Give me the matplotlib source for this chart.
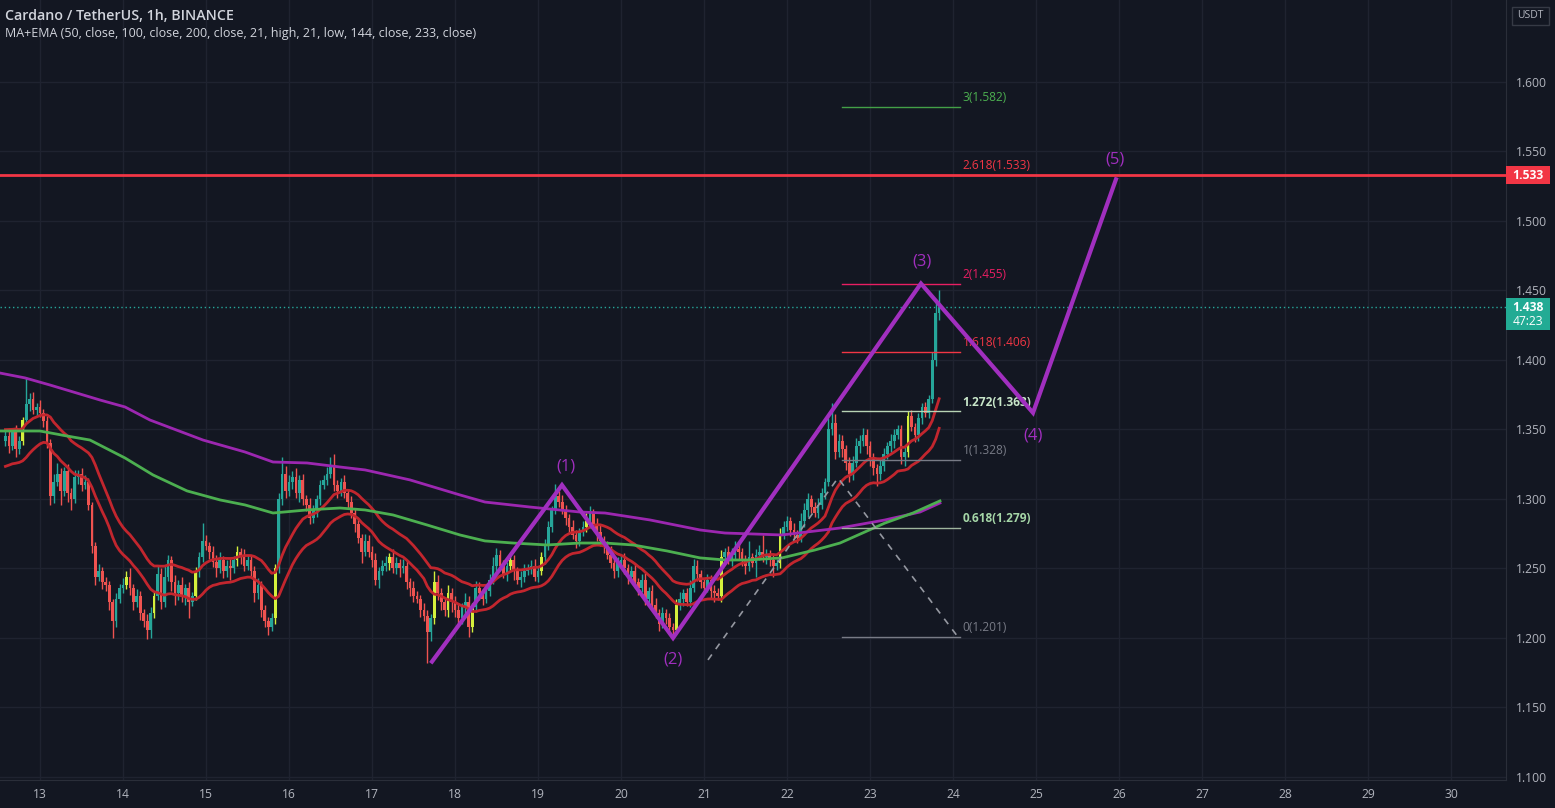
import matplotlib
matplotlib.use('Agg')
import matplotlib.pyplot as plt
from matplotlib.patches import Rectangle

# ---------------- data ----------------
start_day = 12
start_hour = 14
first_open = 1.342

close_12 = [1.345, 1.338, 1.348, 1.336, 1.342, 1.357, 1.368, 1.372, 1.364, 1.366]
close_13 = [1.362, 1.356, 1.340, 1.302, 1.312, 1.318, 1.306, 1.320, 1.304, 1.300, 1.316, 1.318,
            1.310, 1.312, 1.296, 1.266, 1.244, 1.248, 1.240, 1.238, 1.226, 1.212, 1.228, 1.236]
close_14 = [1.238, 1.244, 1.236, 1.226, 1.230, 1.218, 1.212, 1.206, 1.218, 1.230, 1.246, 1.226,
            1.244, 1.256, 1.240, 1.232, 1.238, 1.230, 1.236, 1.226, 1.230, 1.248, 1.258, 1.270]
close_15 = [1.266, 1.262, 1.255, 1.250, 1.256, 1.248, 1.252, 1.250, 1.256, 1.262, 1.258, 1.252,
            1.256, 1.248, 1.232, 1.238, 1.220, 1.212, 1.208, 1.214, 1.250, 1.300, 1.318, 1.306]
close_16 = [1.312, 1.316, 1.304, 1.314, 1.300, 1.296, 1.286, 1.292, 1.300, 1.310, 1.314, 1.318,
            1.324, 1.310, 1.306, 1.312, 1.304, 1.298, 1.290, 1.282, 1.272, 1.262, 1.270, 1.262]
close_17 = [1.256, 1.242, 1.248, 1.252, 1.254, 1.258, 1.250, 1.254, 1.250, 1.252, 1.240, 1.236,
            1.230, 1.228, 1.220, 1.216, 1.204, 1.214, 1.240, 1.232, 1.226, 1.220, 1.232, 1.226]
close_18 = [1.220, 1.214, 1.222, 1.226, 1.208, 1.222, 1.236, 1.232, 1.228, 1.234, 1.242, 1.252,
            1.260, 1.252, 1.246, 1.252, 1.256, 1.248, 1.242, 1.244, 1.248, 1.250, 1.252, 1.244]
close_19 = [1.248, 1.258, 1.266, 1.280, 1.292, 1.302, 1.298, 1.292, 1.286, 1.280, 1.274, 1.270,
            1.276, 1.280, 1.284, 1.290, 1.282, 1.276, 1.270, 1.266, 1.260, 1.254, 1.248, 1.254]
close_20 = [1.256, 1.250, 1.244, 1.248, 1.240, 1.236, 1.242, 1.228, 1.234, 1.224, 1.218, 1.210,
            1.218, 1.214, 1.208, 1.206, 1.224, 1.228, 1.232, 1.226, 1.236, 1.252, 1.246, 1.240]
close_21 = [1.236, 1.242, 1.234, 1.232, 1.230, 1.258, 1.262, 1.256, 1.260, 1.264, 1.262, 1.256,
            1.252, 1.258, 1.254, 1.260, 1.262, 1.258, 1.260, 1.256, 1.252, 1.254, 1.274, 1.280]
close_22 = [1.284, 1.278, 1.274, 1.272, 1.284, 1.292, 1.300, 1.294, 1.290, 1.296, 1.304, 1.312,
            1.350, 1.355, 1.334, 1.342, 1.336, 1.326, 1.318, 1.326, 1.338, 1.342, 1.346, 1.338]
close_23 = [1.330, 1.322, 1.318, 1.324, 1.332, 1.338, 1.342, 1.346, 1.350, 1.330, 1.334, 1.360,
            1.352, 1.346, 1.358, 1.366, 1.362, 1.372, 1.400, 1.434, 1.438]

# wick extensions beyond the body, in thousandths
wick_up_12 = [4, 6, 3, 5, 3, 2, 20, 4, 5, 3]
wick_dn_12 = [4, 5, 3, 6, 4, 3, 3, 5, 3, 4]
wick_up_13 = [5, 3, 4, 3, 6, 8, 4, 3, 5, 4, 5, 3, 4, 5, 3, 2, 3, 5, 3, 4, 3, 2, 4, 3]
wick_dn_13 = [3, 4, 3, 6, 5, 3, 10, 4, 6, 8, 3, 5, 4, 3, 4, 5, 6, 3, 5, 4, 6, 12, 4, 3]
wick_up_14 = [5, 4, 6, 3, 5, 4, 3, 5, 4, 3, 6, 4, 8, 4, 3, 5, 4, 6, 3, 4, 3, 3, 4, 13]
wick_dn_14 = [4, 3, 5, 6, 4, 5, 4, 7, 6, 4, 3, 5, 4, 3, 6, 8, 5, 4, 6, 12, 3, 3, 4, 3]
wick_up_15 = [4, 3, 4, 5, 6, 3, 4, 5, 3, 4, 3, 6, 4, 3, 4, 5, 3, 4, 3, 4, 3, 4, 12, 6]
wick_dn_15 = [3, 5, 4, 6, 3, 5, 4, 8, 3, 4, 5, 4, 3, 5, 6, 4, 5, 4, 6, 3, 4, 3, 4, 5]
wick_up_16 = [5, 4, 6, 3, 4, 3, 5, 4, 3, 4, 3, 5, 6, 8, 4, 3, 5, 3, 4, 3, 4, 3, 5, 4]
wick_dn_16 = [4, 5, 3, 6, 4, 5, 4, 3, 5, 4, 3, 4, 3, 4, 5, 4, 3, 5, 4, 6, 4, 8, 3, 4]
wick_up_17 = [4, 5, 3, 4, 5, 3, 6, 4, 3, 5, 4, 3, 5, 4, 3, 5, 4, 3, 8, 5, 4, 3, 6, 4]
wick_dn_17 = [5, 4, 6, 3, 4, 5, 3, 4, 6, 3, 5, 6, 4, 3, 5, 4, 22, 6, 4, 5, 6, 4, 5, 7]
wick_up_18 = [4, 5, 3, 6, 4, 3, 5, 4, 3, 5, 4, 6, 5, 3, 4, 3, 5, 4, 3, 4, 5, 3, 4, 5]
wick_dn_18 = [5, 3, 4, 5, 7, 4, 3, 5, 4, 3, 4, 3, 5, 4, 3, 5, 4, 6, 3, 5, 4, 3, 4, 3]
wick_up_19 = [3, 4, 5, 4, 3, 9, 4, 5, 4, 3, 5, 4, 3, 4, 6, 5, 3, 4, 5, 3, 4, 6, 3, 4]
wick_dn_19 = [4, 3, 5, 3, 4, 3, 4, 3, 5, 4, 3, 5, 4, 3, 4, 5, 3, 6, 4, 5, 3, 4, 5, 4]
wick_up_20 = [4, 5, 3, 4, 5, 3, 4, 5, 3, 4, 5, 3, 4, 3, 4, 3, 4, 5, 3, 4, 6, 5, 4, 3]
wick_dn_20 = [3, 4, 5, 3, 4, 5, 3, 4, 5, 3, 4, 5, 3, 4, 5, 6, 3, 4, 5, 3, 4, 3, 5, 4]
wick_up_21 = [3, 4, 3, 4, 4, 5, 3, 4, 5, 6, 4, 3, 4, 12, 3, 4, 5, 12, 4, 3, 4, 3, 5, 4]
wick_dn_21 = [4, 3, 5, 6, 3, 4, 5, 3, 4, 3, 5, 4, 6, 4, 3, 10, 4, 3, 5, 4, 8, 3, 4, 3]
wick_up_22 = [4, 3, 5, 4, 6, 5, 4, 3, 4, 5, 4, 3, 8, 14, 6, 5, 4, 3, 4, 5, 6, 4, 5, 4]
wick_dn_22 = [3, 5, 3, 4, 3, 4, 5, 4, 3, 4, 3, 4, 3, 4, 5, 4, 6, 5, 6, 4, 3, 5, 4, 6]
wick_up_23 = [4, 3, 3, 4, 5, 3, 5, 4, 3, 3, 4, 3, 4, 3, 4, 3, 4, 3, 6, 10, 12]
wick_dn_23 = [6, 5, 9, 4, 4, 3, 4, 5, 3, 5, 6, 4, 3, 5, 4, 4, 3, 4, 3, 4, 5]

closes_by_day = [close_12, close_13, close_14, close_15, close_16, close_17,
                 close_18, close_19, close_20, close_21, close_22, close_23]
wick_up_by_day = [wick_up_12, wick_up_13, wick_up_14, wick_up_15, wick_up_16, wick_up_17,
                  wick_up_18, wick_up_19, wick_up_20, wick_up_21, wick_up_22, wick_up_23]
wick_dn_by_day = [wick_dn_12, wick_dn_13, wick_dn_14, wick_dn_15, wick_dn_16, wick_dn_17,
                  wick_dn_18, wick_dn_19, wick_dn_20, wick_dn_21, wick_dn_22, wick_dn_23]

# bars painted yellow-green (day, hour)
yellow_bars = [(12, 19), (14, 1), (14, 9), (14, 21), (15, 9), (15, 20), (17, 5), (17, 18),
               (17, 22), (18, 5), (18, 16), (19, 1), (19, 14), (20, 16), (21, 5), (21, 22), (23, 11)]

# long moving averages
purple_ma_t = [12.518, 12.819, 13.120, 13.723, 14.024, 14.325, 14.964, 15.470, 15.807, 16.217,
               16.614, 16.916, 17.458, 18.060, 18.361, 18.904, 19.506, 19.807, 20.349, 20.952,
               21.253, 21.940, 22.639, 23.181, 23.602, 23.843]
purple_ma_v = [1.3906, 1.3871, 1.3820, 1.3712, 1.3662, 1.3568, 1.3424, 1.3338, 1.3266, 1.3259,
               1.3230, 1.3209, 1.3137, 1.3029, 1.2978, 1.2942, 1.2906, 1.2899, 1.2849, 1.2777,
               1.2755, 1.2741, 1.2791, 1.2849, 1.2906, 1.2971]
green_ma_t = [12.518, 13.000, 13.325, 13.602, 14.024, 14.361, 14.771, 15.169, 15.470, 15.807,
              16.217, 16.614, 16.916, 17.253, 17.663, 18.060, 18.361, 18.699, 19.108, 19.506,
              19.807, 20.145, 20.554, 20.952, 21.253, 21.530, 21.940, 22.337, 22.639, 23.181,
              23.518, 23.843]
green_ma_v = [1.3489, 1.3489, 1.3453, 1.3424, 1.3295, 1.3173, 1.3058, 1.2993, 1.2957, 1.2899,
              1.2921, 1.2935, 1.2921, 1.2885, 1.2813, 1.2741, 1.2698, 1.2683, 1.2669, 1.2683,
              1.2683, 1.2669, 1.2626, 1.2576, 1.2561, 1.2561, 1.2576, 1.2633, 1.2683, 1.2827,
              1.2899, 1.2986]
ema_length = 21
ema_high_seed = 1.350
ema_low_seed = 1.322

# Elliott wave drawing
wave_t = [17.723, 19.289, 20.627, 23.614, 24.964, 25.964]
wave_v = [1.183, 1.310, 1.200, 1.455, 1.362, 1.530]
wave_labels = ['(1)', '(2)', '(3)', '(4)', '(5)']
wave_label_t = [19.337, 20.627, 23.627, 24.964, 25.952]
wave_label_v = [1.3237, 1.1842, 1.4705, 1.346, 1.5439]

# Trend-based fib extension
fib_ratios = ['3', '2.618', '2', '1.618', '1.272', '1', '0.618', '0']
fib_values = [1.582, 1.533, 1.455, 1.406, 1.363, 1.328, 1.279, 1.201]
fib_line_colors = ['#43a047', '#f23645', '#e91e63', '#f23645', '#b7d3b4', '#787b86', '#9fb59e', '#787b86']
fib_text_colors = ['#4caf50', '#f23645', '#e91e63', '#f23645', '#c8e6c9', '#787b86', '#a5d6a7', '#787b86']
fib_bold = [False, False, False, False, True, False, True, False]
fib_t0, fib_t1 = 22.663, 24.084
fib_path_t = [21.048, 22.614, 24.060]
fib_path_v = [1.1842, 1.3151, 1.2007]

resistance = 1.533
last_price = 1.438
countdown = '47:23'
y_ticks = [1.10, 1.15, 1.20, 1.25, 1.30, 1.35, 1.40, 1.45, 1.50, 1.55, 1.60]
x_ticks = list(range(13, 31))

title_line = 'Cardano / TetherUS, 1h, BINANCE'
indicator_line = 'MA+EMA (50, close, 100, close, 200, close, 21, high, 21, low, 144, close, 233, close)'

# ---------------- style ----------------
BG = '#131722'
GRID = '#1f2330'
TXT = '#b2b5be'
UP = '#26a69a'
DN = '#ef5350'
YEL = '#d4f03c'
PURPLE = '#9c27b0'
WAVE = '#a12fbf'
GREEN = '#4caf50'
EMA_RED = '#c2262e'

plt.rcParams['font.family'] = ['Open Sans', 'DejaVu Sans']

W, H = 1555, 808
fig = plt.figure(figsize=(W / 100, H / 100), dpi=100, facecolor=BG)
ax_left, ax_bottom = 0.0, 28 / H
ax_w, ax_h = 1506 / W, 780 / H
ax = fig.add_axes([ax_left, ax_bottom, ax_w, ax_h], facecolor=BG)
XMIN, XMAX = 12.518, 30.663
YMIN, YMAX = 1.0978, 1.659
ax.set_xlim(XMIN, XMAX)
ax.set_ylim(YMIN, YMAX)

# grid
for t in x_ticks:
    ax.axvline(t, color=GRID, lw=1, zorder=0)
for v in y_ticks:
    ax.axhline(v, color=GRID, lw=1, zorder=0)

# ---------------- candles ----------------
ts, opens, closes, highs, lows, cols = [], [], [], [], [], []
prev = first_open
yellow_set = set(yellow_bars)
for di, (cl, wu, wd) in enumerate(zip(closes_by_day, wick_up_by_day, wick_dn_by_day)):
    day = start_day + di
    h0 = start_hour if di == 0 else 0
    for k, c in enumerate(cl):
        hour = h0 + k
        t = day + hour / 24.0
        o = prev
        ts.append(t)
        opens.append(o)
        closes.append(c)
        highs.append(max(o, c) + wu[k] / 1000.0)
        lows.append(min(o, c) - wd[k] / 1000.0)
        if (day, hour) in yellow_set:
            cols.append(YEL)
        else:
            cols.append(UP if c >= o else DN)
        prev = c

bw = 0.78 / 24
ax.vlines(ts, lows, highs, colors=cols, lw=1.0, zorder=3)
ax.bar(ts, [max(abs(c - o), 0.0008) for o, c in zip(opens, closes)],
       bottom=[min(o, c) for o, c in zip(opens, closes)], width=bw, color=cols,
       linewidth=0, zorder=4)

# EMA 21 of highs / lows
eh, el = [], []
a = 2.0 / (ema_length + 1)
sh, sl = ema_high_seed, ema_low_seed
for hi, lo in zip(highs, lows):
    sh = a * hi + (1 - a) * sh
    sl = a * lo + (1 - a) * sl
    eh.append(sh)
    el.append(sl)
ax.plot(ts, eh, color=EMA_RED, lw=2, zorder=5)
ax.plot(ts, el, color=EMA_RED, lw=2, zorder=5)
ax.plot(purple_ma_t, purple_ma_v, color=PURPLE, lw=2, zorder=5)
ax.plot(green_ma_t, green_ma_v, color=GREEN, lw=2, zorder=5)

# resistance and last price lines
ax.axhline(resistance, color='#f23645', lw=2, zorder=6)
ax.axhline(last_price, color=UP, lw=1, ls=(0, (1, 2)), zorder=6)

# fib extension
ax.plot(fib_path_t, fib_path_v, color='#9598a1', lw=1.2, ls=(0, (4, 4)), zorder=6)
for r, v, lc, tc, b in zip(fib_ratios, fib_values, fib_line_colors, fib_text_colors, fib_bold):
    ax.plot([fib_t0, fib_t1], [v, v], color=lc, lw=1, zorder=6)
    ax.text(fib_t1 + 0.03, v + 0.002, f'{r}({v:.3f})', color=tc, fontsize=8.6,
            fontweight='bold' if b else 'normal', va='bottom', ha='left', zorder=7)

# wave
ax.plot(wave_t, wave_v, color=WAVE, lw=3, zorder=8, solid_joinstyle='miter')
for lab, t, v in zip(wave_labels, wave_label_t, wave_label_v):
    ax.text(t, v, lab, color=WAVE, fontsize=12, ha='center', va='center', zorder=9)

# axes styling
for s in ['top', 'left']:
    ax.spines[s].set_visible(False)
ax.spines['right'].set_color('#2a2e39')
ax.spines['bottom'].set_color('#2a2e39')
ax.yaxis.tick_right()
ax.set_yticks(y_ticks)
ax.set_yticklabels([f'{v:.3f}' for v in y_ticks])
ax.set_xticks(x_ticks)
ax.set_xticklabels([str(t) for t in x_ticks])
ax.tick_params(axis='y', length=0, pad=7, labelcolor=TXT, labelsize=8.7)
ax.tick_params(axis='x', length=0, pad=6, labelcolor=TXT, labelsize=8.7)


def ypix_frac(v):
    return ax_bottom + (v - YMIN) / (YMAX - YMIN) * ax_h


# price boxes on axis
x0f = 1506 / W
bwf = 44 / W
yc = ypix_frac(resistance)
fig.add_artist(Rectangle((x0f, yc - 9 / H), bwf, 18 / H, transform=fig.transFigure,
                         facecolor='#f23645', edgecolor='none', zorder=10))
fig.text(x0f + bwf / 2, yc, f'{resistance:.3f}', color='white', fontsize=8.7,
         fontweight='bold', ha='center', va='center', zorder=11)

yc = ypix_frac(last_price)
fig.add_artist(Rectangle((x0f, yc - 23 / H), bwf, 32 / H, transform=fig.transFigure,
                         facecolor='#22ab94', edgecolor='none', zorder=10))
fig.text(x0f + bwf / 2, yc, f'{last_price:.3f}', color='white', fontsize=8.7,
         fontweight='bold', ha='center', va='center', zorder=11)
fig.text(x0f + bwf / 2, yc - 14 / H, countdown, color='white', fontsize=8.7,
         ha='center', va='center', zorder=11)

# currency box
fig.add_artist(Rectangle((1512 / W, 1 - 25 / H), 37 / W, 18 / H, transform=fig.transFigure,
                         facecolor=BG, edgecolor='#363a45', lw=1, zorder=10))
fig.text(1530.5 / W, 1 - 16 / H, 'USDT', color=TXT, fontsize=7.5, ha='center', va='center', zorder=11)

# header text
fig.text(5 / W, 1 - 16 / H, title_line, color='#d1d4dc', fontsize=10.3, fontweight='semibold',
         ha='left', va='center')
fig.text(5 / W, 1 - 33 / H, indicator_line, color='#d1d4dc', fontsize=9,
         ha='left', va='center')

fig.savefig('out.png', dpi=100, facecolor=BG)
